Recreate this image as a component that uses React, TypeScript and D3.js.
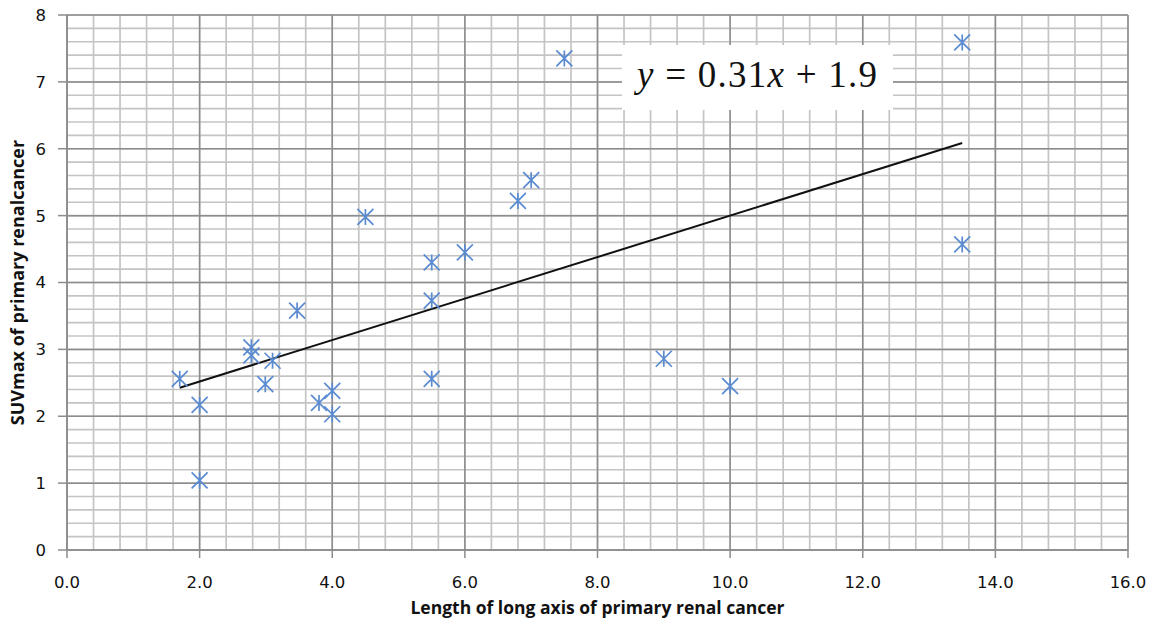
import * as d3 from 'd3';

// tumour length (cm) vs SUVmax
const lengths = [1.7, 2.0, 2.0, 2.78, 2.78, 3.1, 2.99, 3.47, 3.8, 4.0, 4.0, 4.5, 5.5, 5.5, 5.5, 6.0, 6.8, 7.0, 7.5, 9.0, 10.0, 13.5, 13.5];
const suvmax = [2.56, 2.17, 1.04, 3.03, 2.91, 2.83, 2.48, 3.58, 2.2, 2.38, 2.03, 4.98, 4.3, 3.73, 2.56, 4.45, 5.22, 5.53, 7.35, 2.86, 2.45, 7.59, 4.57];

const slope = 0.31;
const intercept = 1.9;

const xTicks = [0, 2, 4, 6, 8, 10, 12, 14, 16];
const yTicks = [0, 1, 2, 3, 4, 5, 6, 7, 8];

const W = 1156;
const H = 626;
const margin = { top: 15, right: 28, bottom: 76, left: 67 };

export default function App() {
  const x = d3.scaleLinear().domain([0, 16]).range([margin.left, W - margin.right]);
  const y = d3.scaleLinear().domain([0, 8]).range([H - margin.bottom, margin.top]);

  const xMinor = d3.range(0, 16.001, 0.4);
  const yMinor = d3.range(0, 8.001, 0.2);

  const x0 = d3.min(lengths) as number;
  const x1 = d3.max(lengths) as number;
  const trend = d3.line<number>()
    .x(d => x(d))
    .y(d => y(slope * d + intercept));

  const star = 'M-8,-8L8,8M-8,8L8,-8M0,-8L0,8';

  return (
    <div style={{ position: 'absolute', left: 0, top: 0 }}>
      <svg width={W} height={H} style={{ display: 'block', background: '#fff' }}>
        {/* minor grid */}
        <g stroke="#c4c4c4" strokeWidth={1.7}>
          {xMinor.map((v, i) => (
            <line key={'xm' + i} x1={x(v)} x2={x(v)} y1={y(0)} y2={y(8)} />
          ))}
          {yMinor.map((v, i) => (
            <line key={'ym' + i} x1={x(0)} x2={x(16)} y1={y(v)} y2={y(v)} />
          ))}
        </g>
        {/* major grid */}
        <g stroke="#8c8c8c" strokeWidth={1.5}>
          {xTicks.map(v => (
            <line key={'xM' + v} x1={x(v)} x2={x(v)} y1={y(0)} y2={y(8)} />
          ))}
          {yTicks.map(v => (
            <line key={'yM' + v} x1={x(0)} x2={x(16)} y1={y(v)} y2={y(v)} />
          ))}
        </g>
        {/* axes */}
        <g stroke="#8c8c8c" strokeWidth={1.5}>
          <line x1={x(0)} x2={x(0)} y1={y(0)} y2={y(8)} />
          <line x1={x(0)} x2={x(16)} y1={y(0)} y2={y(0)} />
          {yTicks.map(v => (
            <line key={'yt' + v} x1={x(0) - 9} x2={x(0)} y1={y(v)} y2={y(v)} />
          ))}
          {xTicks.map(v => (
            <line key={'xt' + v} x1={x(v)} x2={x(v)} y1={y(0)} y2={y(0) + 8} />
          ))}
        </g>
        <g fontFamily="DejaVu Sans, Verdana, sans-serif" fontSize={16.5} fill="#111">
          {yTicks.map(v => (
            <text key={'yl' + v} x={x(0) - 21} y={y(v)} dy="0.36em" textAnchor="end">{v}</text>
          ))}
          {xTicks.map(v => (
            <text key={'xl' + v} x={x(v)} y={y(0) + 38} textAnchor="middle">{v.toFixed(1)}</text>
          ))}
        </g>
        {/* axis titles */}
        <text x={(x(0) + x(16)) / 2} y={H - 12} textAnchor="middle" fontFamily="Open Sans, sans-serif"
          fontWeight="bold" fontSize={17.5} fill="#111">Length of long axis of primary renal cancer</text>
        <text transform={`translate(24,${(y(0) + y(8)) / 2}) rotate(-90)`} textAnchor="middle"
          fontFamily="Open Sans, sans-serif" fontWeight="bold" fontSize={18} fill="#111">SUVmax of primary renalcancer</text>

        {/* trend line */}
        <path d={trend([x0, x1]) || ''} fill="none" stroke="#111" strokeWidth={2} />

        {/* points */}
        <g stroke="#5a8bd0" strokeWidth={1.7} fill="none">
          {lengths.map((v, i) => (
            <path key={'p' + i} d={star} transform={`translate(${x(v)},${y(suvmax[i])})`} />
          ))}
        </g>

        {/* equation label */}
        <rect x={622} y={45} width={271} height={65} fill="#fff" />
        <text x={637} y={87} fontFamily="Liberation Serif, serif" fontSize={37} fill="#111"
          textLength={240} lengthAdjust="spacing">
          <tspan fontStyle="italic">y</tspan>
          <tspan> = 0.31</tspan>
          <tspan fontStyle="italic">x</tspan>
          <tspan> + 1.9</tspan>
        </text>
      </svg>
    </div>
  );
}
